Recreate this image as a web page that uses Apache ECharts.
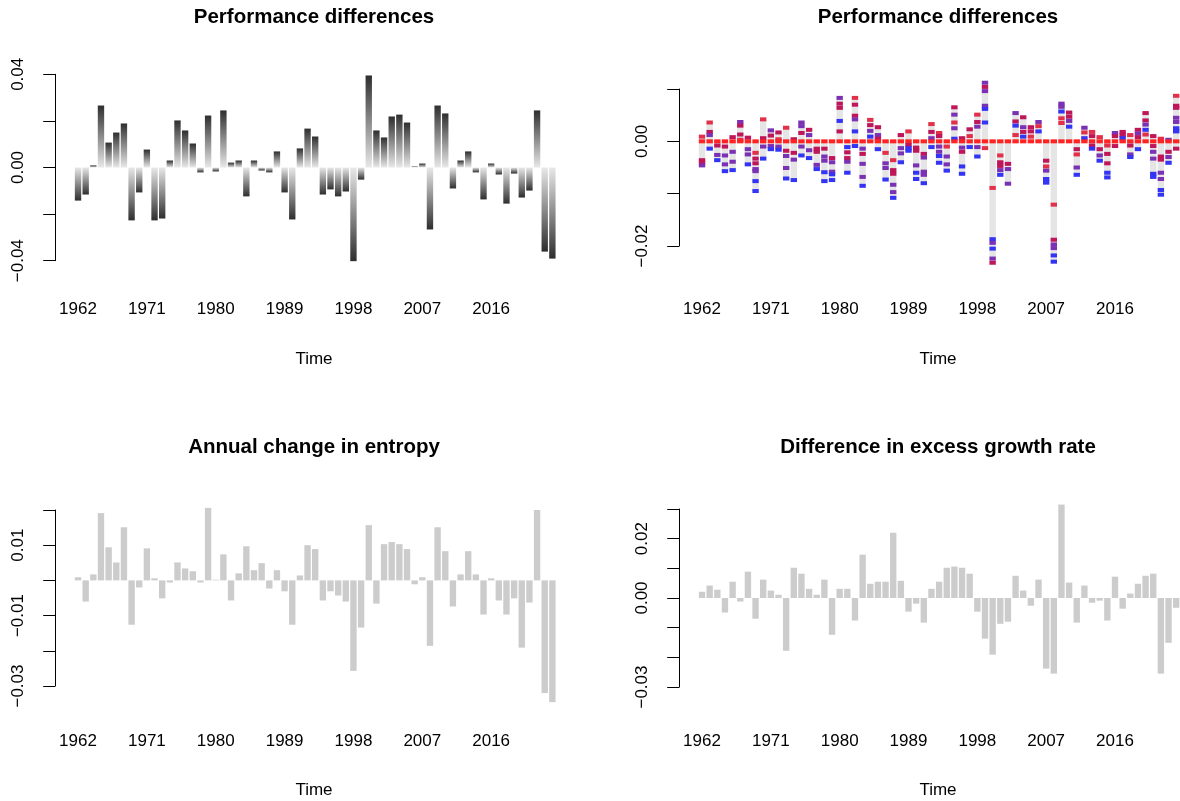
<!DOCTYPE html>
<html>
<head>
<meta charset="utf-8">
<script src="https://cdn.jsdelivr.net/npm/echarts@6/dist/echarts.min.js"></script>
<style>
  html, body { margin: 0; padding: 0; background: #fff; }
  #chart { width: 1180px; height: 801px; }
</style>
</head>
<body>
<div id="chart"></div>
<script>
// ---- data ----
const years = ['1962','1963','1964','1965','1966','1967','1968','1969','1970','1971',
  '1972','1973','1974','1975','1976','1977','1978','1979','1980','1981','1982','1983',
  '1984','1985','1986','1987','1988','1989','1990','1991','1992','1993','1994','1995',
  '1996','1997','1998','1999','2000','2001','2002','2003','2004','2005','2006','2007',
  '2008','2009','2010','2011','2012','2013','2014','2015','2016','2017','2018','2019',
  '2020','2021','2022','2023','2024'];

// top left: performance differences
const perfDiff = [-0.0142,-0.0116,0.0009,0.0266,0.0107,0.015,0.0189,-0.0227,-0.0107,0.0077,
  -0.0227,-0.0219,0.003,0.0202,0.0159,0.0103,-0.0021,0.0223,-0.0017,0.0245,
  0.0021,0.003,-0.0124,0.003,-0.0013,-0.0021,0.0069,-0.0107,-0.0223,0.0082,
  0.0167,0.0133,-0.0116,-0.0094,-0.0124,-0.0103,-0.0402,-0.0052,0.0395,0.0159,
  0.0129,0.0219,0.0227,0.0193,0.0004,0.0017,-0.0266,0.0266,0.0232,-0.009,
  0.003,0.0069,-0.0021,-0.0137,0.0017,-0.003,-0.0155,-0.0026,-0.0129,-0.0099,
  0.0245,-0.0361,-0.0391];

// top right: one list of [value, colour index] per year (0 red ... 4 blue)
const perfDashes = [
  [[0.0009,1],[0,0],[-0.0036,2],[-0.0041,2],[-0.0046,3]],
  [[0.0036,1],[0.0018,2],[0.0012,3],[0,0],[-0.0014,4]],
  [[0,0],[-0.0008,2],[-0.0026,3],[-0.0036,4]],
  [[0,0],[-0.001,2],[-0.0027,3],[-0.0044,3],[-0.0057,4]],
  [[0.0008,2],[0,0],[-0.002,3],[-0.0039,3],[-0.0055,4]],
  [[0.0037,3],[0.003,2],[0.0013,2],[0.0003,1],[0,0]],
  [[0.0007,2],[0,0],[-0.0015,3],[-0.0025,3],[-0.0044,4]],
  [[0,0],[-0.0022,1],[-0.0033,2],[-0.0042,2],[-0.0053,3],[-0.0057,3],[-0.0076,4],[-0.0095,4]],
  [[0.0042,1],[0.0006,2],[0,0],[-0.001,3],[-0.0033,4]],
  [[0.0021,3],[0.0011,2],[0,0],[-0.0009,3],[-0.0015,4]],
  [[0.0017,2],[0.0004,1],[0,0],[-0.001,3],[-0.0016,4]],
  [[0.0026,1],[0,0],[-0.0018,2],[-0.0028,3],[-0.0051,3],[-0.0071,4]],
  [[0.0004,2],[0,0],[-0.0022,2],[-0.0035,3],[-0.0074,4]],
  [[0.0036,3],[0.0029,3],[0.0016,2],[0,0],[-0.001,3],[-0.0027,4]],
  [[0.0022,2],[0.0012,3],[0,0],[-0.0017,3],[-0.0032,4]],
  [[0,0],[-0.0014,2],[-0.002,2],[-0.0045,3],[-0.0053,4]],
  [[0,0],[-0.0014,2],[-0.0029,3],[-0.0037,3],[-0.0059,4],[-0.0076,4]],
  [[0,0],[-0.0032,2],[-0.004,3],[-0.0058,3],[-0.0063,4],[-0.0074,4]],
  [[0.0083,3],[0.0072,2],[0.0064,2],[0.0039,4],[0.0019,2],[0,0]],
  [[0,0],[-0.0011,4],[-0.0021,2],[-0.0032,2],[-0.0039,3],[-0.006,4]],
  [[0.0083,1],[0.007,2],[0.0049,2],[0.0042,3],[0.0019,4],[0,0],[-0.0009,4]],
  [[0,0],[-0.0014,3],[-0.0024,2],[-0.0043,3],[-0.0068,3],[-0.0085,4]],
  [[0.0041,1],[0.0031,2],[0.002,3],[0.0009,4],[0,0]],
  [[0.0027,2],[0.0012,3],[0.0005,2],[0,0],[-0.0015,4]],
  [[0,0],[-0.0022,1],[-0.0042,3],[-0.0051,3],[-0.0073,4]],
  [[0,0],[-0.0036,1],[-0.0055,2],[-0.0062,2],[-0.0083,3],[-0.0097,3],[-0.0108,4]],
  [[0.0012,2],[0,0],[-0.0013,3],[-0.0023,3],[-0.004,4]],
  [[0.0019,1],[0,0],[-0.0007,2],[-0.0013,4],[-0.0018,4]],
  [[0,0],[-0.0012,2],[-0.0018,2],[-0.0046,3],[-0.006,4],[-0.0072,4]],
  [[0,0],[-0.0024,2],[-0.0031,3],[-0.0058,3],[-0.0064,3],[-0.008,4]],
  [[0.0033,1],[0.0018,2],[0.0006,3],[0,0],[-0.0011,4]],
  [[0.0016,1],[0.001,2],[0,0],[-0.001,3],[-0.002,3],[-0.0028,4],[-0.0041,4]],
  [[0,0],[-0.001,1],[-0.0029,3],[-0.0044,3],[-0.0056,4]],
  [[0.0065,2],[0.0051,3],[0.0036,1],[0.0025,3],[0.0005,4],[0,0]],
  [[0.0006,2],[0,0],[-0.0012,3],[-0.002,2],[-0.0048,4],[-0.0062,4]],
  [[0.0023,2],[0.001,1],[0,0],[-0.0011,4]],
  [[0.0051,1],[0.0037,2],[0.0028,3],[0,0],[-0.0011,3],[-0.0029,4]],
  [[0.0112,3],[0.0104,2],[0.0096,3],[0.0068,3],[0.0062,4],[0.0036,4],[0,0],[-0.0013,1]],
  [[0,0],[-0.0089,1],[-0.0187,4],[-0.0194,3],[-0.0205,4],[-0.0224,3],[-0.0232,2]],
  [[0,0],[-0.0027,1],[-0.004,2],[-0.0047,2],[-0.0055,3],[-0.0064,4]],
  [[0,0],[-0.0043,2],[-0.0053,3],[-0.0081,3]],
  [[0.0054,3],[0.0038,2],[0.003,4],[0.0012,1],[0,0]],
  [[0.0046,2],[0.0027,3],[0.0018,2],[0.0009,4],[0,0]],
  [[0.0027,2],[0.0019,2],[0.0009,1],[0,0]],
  [[0.0037,3],[0.0029,1],[0.0019,4],[0,0]],
  [[0,0],[-0.0037,2],[-0.0048,1],[-0.0056,3],[-0.0072,4],[-0.0079,4]],
  [[0,0],[-0.0121,1],[-0.0188,2],[-0.0197,3],[-0.0204,3],[-0.0218,4],[-0.023,4]],
  [[0.0072,3],[0.0066,3],[0.0057,4],[0.0044,1],[0.0035,1],[0,0]],
  [[0.0055,2],[0.0047,2],[0.0039,3],[0.0028,4],[0,0]],
  [[0,0],[-0.0015,2],[-0.0025,1],[-0.005,3],[-0.0064,4]],
  [[0.0026,3],[0.0017,1],[0.0006,4],[0,0]],
  [[0.0018,1],[0.001,2],[0,0],[-0.0008,2],[-0.0014,4]],
  [[0.0008,1],[0,0],[-0.0015,2],[-0.0027,3],[-0.0037,4]],
  [[0,0],[-0.0008,1],[-0.0024,2],[-0.0042,2],[-0.006,4],[-0.0069,4]],
  [[0.0016,3],[0.001,2],[0,0],[-0.0009,2]],
  [[0.0018,2],[0.0012,2],[0.0006,4],[0,0]],
  [[0.0012,1],[0,0],[-0.0008,2],[-0.0025,3],[-0.003,4]],
  [[0.0022,2],[0.0015,3],[0.0008,2],[0,0],[-0.0015,4]],
  [[0.0054,2],[0.004,2],[0.0032,3],[0.0022,4],[0.0013,1],[0,0]],
  [[0.001,2],[0,0],[-0.0009,2],[-0.002,3],[-0.0033,3],[-0.0062,4],[-0.0068,4]],
  [[0.0005,1],[0,0],[-0.0029,2],[-0.0035,2],[-0.006,3],[-0.0072,3],[-0.0093,4],[-0.0102,4]],
  [[0.0003,3],[0,0],[-0.002,2],[-0.003,3],[-0.0041,4]],
  [[0.0087,1],[0.0068,2],[0.0064,2],[0.0045,3],[0.0037,3],[0.0025,4],[0.0019,4],[0,0],[-0.0014,2]]
];
const dashColors = ['#ff2323', '#e2304a', '#bf1559', '#7b31b4', '#3434f4'];

// bottom left: annual change in entropy
const entropyChange = [0.0009,-0.006,0.0017,0.0191,0.0094,0.0051,0.0151,-0.0126,-0.002,0.0091,
  0.0006,-0.0051,-0.0006,0.0051,0.0034,0.0026,-0.0006,0.0206,0.0002,0.0074,
  -0.0057,0.002,0.0097,0.0029,0.0049,-0.0023,0.0029,-0.0031,-0.0126,0.0014,
  0.01,0.0089,-0.0057,-0.0031,-0.0043,-0.006,-0.0257,-0.0134,0.0157,-0.0066,
  0.0103,0.0109,0.0103,0.0089,-0.0011,0.0009,-0.0186,0.0151,0.0083,-0.0074,
  0.0017,0.0083,0.0017,-0.0097,0.0006,-0.0057,-0.0097,-0.0051,-0.0191,-0.0063,
  0.02,-0.032,-0.0346];

// bottom right: difference in excess growth rate
const excessGrowthDiff = [0.0021,0.0042,0.0028,-0.0049,0.0055,-0.0012,0.0089,-0.007,0.0062,0.0025,
  0.0011,-0.0178,0.0102,0.0082,0.0031,0.0011,0.0062,-0.0124,0.0031,0.0031,
  -0.0076,0.0146,0.0048,0.0055,0.0055,0.022,0.0058,-0.0046,-0.0019,-0.0083,
  0.0031,0.0055,0.0102,0.0106,0.0102,0.0082,-0.0046,-0.0137,-0.0191,-0.0087,
  -0.008,0.0075,0.0025,-0.0026,0.0062,-0.0238,-0.0255,0.0315,0.0052,-0.0083,
  0.0042,-0.0016,-0.0009,-0.0076,0.0072,-0.0036,0.0015,0.0048,0.0075,0.0082,
  -0.0255,-0.0151,-0.0033];

// y tick labels that R kept on each panel
const yLabVals1 = [-0.04, 0, 0.04],        yLabText1 = ['\u22120.04', '0.00', '0.04'];
const yLabVals2 = [-0.02, 0],              yLabText2 = ['\u22120.02', '0.00'];
const yLabVals3 = [-0.03, -0.01, 0.01],    yLabText3 = ['\u22120.03', '\u22120.01', '0.01'];
const yLabVals4 = [-0.03, 0, 0.02],        yLabText4 = ['\u22120.03', '0.00', '0.02'];

// ---- chart ----
const FONT = '"Liberation Sans", Arial, Helvetica, sans-serif';
const chart = echarts.init(document.getElementById('chart'));
const BAR_FRAC = 1 / 1.2;

function yAxis(gridIndex, min, max, interval, labVals, labText) {
  return {
    type: 'value', gridIndex, min, max, interval,
    offset: 19,
    splitLine: { show: false },
    axisLine: { show: true, lineStyle: { color: '#000', width: 1 } },
    axisTick: { show: true, length: 12, lineStyle: { color: '#000', width: 1 } },
    axisLabel: {
      rotate: 90, margin: 28, fontSize: 17, color: '#000', fontFamily: FONT,
      formatter: v => {
        const i = labVals.findIndex(t => Math.abs(t - v) < 1e-9);
        return i < 0 ? '' : labText[i];
      }
    }
  };
}

function xAxis(gridIndex, margin) {
  return {
    type: 'category', gridIndex, data: years, boundaryGap: true,
    axisLine: { show: false, onZero: false },
    axisTick: { show: false },
    splitLine: { show: false },
    axisLabel: { interval: 8, margin, fontSize: 17, color: '#000', fontFamily: FONT }
  };
}

function heading(text, x, y) {
  return { text, left: x, top: y, textAlign: 'center', padding: 0,
    textStyle: { fontSize: 20.5, fontWeight: 'bold', color: '#000', fontFamily: FONT } };
}
function timeLabel(x, y) {
  return { text: 'Time', left: x, top: y, textAlign: 'center', padding: 0,
    textStyle: { fontSize: 17, fontWeight: 'normal', color: '#000', fontFamily: FONT } };
}

// panel 2 items
const dashItems = [];
const rangeItems = [];
perfDashes.forEach((list, i) => {
  let lo = 0, hi = 0;
  list.forEach(([v, c]) => {
    dashItems.push([i, v, c]);
    lo = Math.min(lo, v); hi = Math.max(hi, v);
  });
  rangeItems.push([i, lo, hi]);
});

const option = {
  animation: false,
  backgroundColor: '#fff',
  title: [
    heading('Performance differences', 314, 7),
    heading('Performance differences', 938, 7),
    heading('Annual change in entropy', 314, 437),
    heading('Difference in excess growth rate', 938, 437),
    timeLabel(314, 351),
    timeLabel(938, 351),
    timeLabel(314, 782),
    timeLabel(938, 782)
  ],
  grid: [
    { left: 74.2, top: 74.3, width: 482, height: 186.4 },
    { left: 698.2, top: 89, width: 482, height: 157 },
    { left: 74.2, top: 510, width: 482, height: 176 },
    { left: 698.2, top: 509, width: 482, height: 178 }
  ],
  xAxis: [xAxis(0, 40), xAxis(1, 55), xAxis(2, 47), xAxis(3, 46)],
  yAxis: [
    yAxis(0, -0.04, 0.04, 0.02, yLabVals1, yLabText1),
    yAxis(1, -0.02, 0.01, 0.01, yLabVals2, yLabText2),
    yAxis(2, -0.03, 0.02, 0.01, yLabVals3, yLabText3),
    yAxis(3, -0.03, 0.03, 0.01, yLabVals4, yLabText4)
  ],
  series: [
    {
      // gradient bars, light at zero, dark at the tip
      type: 'custom', xAxisIndex: 0, yAxisIndex: 0, clip: false,
      data: perfDiff.map((v, i) => [i, v]),
      renderItem: (params, api) => {
        const base = api.coord([api.value(0), 0]);
        const tip = api.coord([api.value(0), api.value(1)]);
        const w = api.size([1, 0])[0] * BAR_FRAC;
        return {
          type: 'rect',
          shape: { x: base[0] - w / 2, y: Math.min(base[1], tip[1]), width: w, height: Math.abs(tip[1] - base[1]) },
          style: {
            fill: new echarts.graphic.LinearGradient(0, base[1], 0, tip[1],
              [{ offset: 0, color: '#e8e8e8' }, { offset: 1, color: '#2e2e2e' }], true)
          }
        };
      }
    },
    {
      type: 'custom', xAxisIndex: 1, yAxisIndex: 1, clip: false,
      data: rangeItems,
      renderItem: (params, api) => {
        const a = api.coord([api.value(0), api.value(2)]);
        const b = api.coord([api.value(0), api.value(1)]);
        const w = api.size([1, 0])[0] * BAR_FRAC;
        return { type: 'rect', shape: { x: a[0] - w / 2, y: a[1], width: w, height: b[1] - a[1] },
          style: { fill: '#e5e5e5' } };
      }
    },
    {
      type: 'custom', xAxisIndex: 1, yAxisIndex: 1, clip: false,
      data: dashItems,
      renderItem: (params, api) => {
        const p = api.coord([api.value(0), api.value(1)]);
        const w = api.size([1, 0])[0] * BAR_FRAC;
        return { type: 'rect', shape: { x: p[0] - w / 2, y: p[1] - 2, width: w, height: 4 },
          style: { fill: dashColors[api.value(2)] } };
      }
    },
    {
      type: 'bar', xAxisIndex: 2, yAxisIndex: 2, clip: false,
      data: entropyChange, barWidth: '83.3%',
      itemStyle: { color: '#cccccc' }
    },
    {
      type: 'bar', xAxisIndex: 3, yAxisIndex: 3, clip: false,
      data: excessGrowthDiff, barWidth: '83.3%',
      itemStyle: { color: '#cccccc' }
    }
  ]
};
chart.setOption(option);
</script>
</body>
</html>
